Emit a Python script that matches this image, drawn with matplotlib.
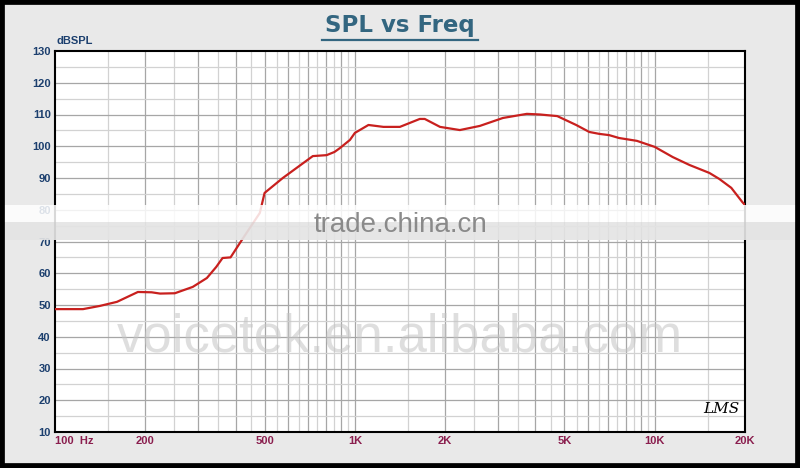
import matplotlib
matplotlib.use("Agg")
import matplotlib.pyplot as plt
from matplotlib.patches import Rectangle
from matplotlib.lines import Line2D

# frequency response
freq = [100, 124, 141, 161, 189, 210, 224, 251, 288, 321, 345, 362, 385, 420,
        482, 500, 575, 724, 805, 855, 891, 963, 1000, 1110, 1245, 1413, 1646,
        1710, 1923, 2239, 2610, 3115, 3745, 4150, 4365, 4730, 5470, 6050, 6530,
        7050, 7600, 8720, 10000, 11480, 13060, 15210, 16420, 18000, 19600, 20000]
spl = [48.7, 48.7, 49.7, 51.0, 54.1, 54.0, 53.6, 53.7, 55.7, 58.5, 62.0, 64.8, 65.0, 70.5,
       79.0, 85.3, 90.0, 96.9, 97.2, 98.2, 99.4, 102.0, 104.2, 106.7, 106.1, 106.1, 108.6,
       108.6, 106.1, 105.1, 106.4, 108.9, 110.2, 110.0, 109.8, 109.5, 106.7, 104.5, 103.9,
       103.5, 102.6, 101.7, 99.8, 96.6, 94.1, 91.6, 89.7, 86.9, 82.4, 81.5]

xtick_pos = [100, 200, 500, 1000, 2000, 5000, 10000, 20000]
xtick_lab = ["100  Hz", "200", "500", "1K", "2K", "5K", "10K", "20K"]
ytick_pos = list(range(10, 140, 10))

W, H = 800, 468
fig = plt.figure(figsize=(8, 4.68), dpi=100, facecolor="#e9e9e9")
ax = fig.add_axes([55 / W, 36 / H, 690 / W, 381 / H])
ax.set_facecolor("white")
ax.set_xscale("log")
ax.set_xlim(100, 20000)
ax.set_ylim(10, 130)

# grid like the LMS printout: 1, 1.5, 2 ... 9.5 per decade
for dec in [100, 1000, 10000]:
    for k in range(2, 20):
        f = dec * k / 2
        if f <= 100 or f >= 20000:
            continue
        c = "#a6a6a6" if k % 2 == 0 else "#d2d2d2"
        ax.axvline(f, color=c, lw=0.9, zorder=1)
for y in range(15, 130, 5):
    c = "#a6a6a6" if y % 10 == 0 else "#d2d2d2"
    ax.axhline(y, color=c, lw=0.9, zorder=1)

ax.plot(freq, spl, color="#c8201e", lw=1.6, zorder=3)

ax.set_xticks(xtick_pos)
ax.set_xticklabels(xtick_lab)
ax.minorticks_off()
ax.set_yticks(ytick_pos)
ax.tick_params(length=0, pad=3)
for t in ax.get_xticklabels():
    t.set_fontfamily("Liberation Sans")
    t.set_fontweight("bold")
    t.set_fontsize(8)
    t.set_color("#8a1e4e")
ax.get_xticklabels()[0].set_horizontalalignment("left")
for t in ax.get_yticklabels():
    t.set_fontfamily("Liberation Sans")
    t.set_fontweight("bold")
    t.set_fontsize(8)
    t.set_color("#1c3f6e")
for s in ax.spines.values():
    s.set_color("black")
    s.set_linewidth(1.5)

fig.text(56 / W, 1 - 44 / H, "dBSPL", fontfamily="Liberation Sans", fontweight="bold",
         fontsize=8, color="#1c3f6e", va="baseline")

# title with underline
fig.text(0.5, 1 - 32 / H, "SPL vs Freq", ha="center", va="baseline",
         fontfamily="DejaVu Sans", fontweight="bold", fontsize=16.5, color="#336680")
fig.add_artist(Line2D([322 / W, 478 / W], [1 - 40 / H] * 2, color="#336680", lw=1.6))

# LMS logo
fig.text(703 / W, 1 - 413 / H, "LMS", fontfamily="DejaVu Serif", style="italic",
         fontsize=11, color="black")

# watermarks
fig.add_artist(Rectangle((0, 1 - 222 / H), 1, 17 / H, transform=fig.transFigure,
                         facecolor="white", alpha=0.85, lw=0, zorder=5))
fig.add_artist(Rectangle((0, 1 - 240 / H), 1, 18 / H, transform=fig.transFigure,
                         facecolor="#e4e4e4", alpha=0.92, lw=0, zorder=5))
fig.text(0.5, 1 - 225 / H, "trade.china.cn", ha="center", va="center",
         fontfamily="Liberation Sans", fontsize=20, color="#8a8a8a", zorder=6)
fig.text(0.5, 1 - 338 / H, "voicetek.en.alibaba.com", ha="center", va="center",
         fontfamily="Liberation Sans", fontsize=38, color="#c4c4c4", alpha=0.55, zorder=6)

# outer black frame
fig.add_artist(Rectangle((0, 0), 1, 1, transform=fig.transFigure, fill=False,
                         edgecolor="black", lw=7, zorder=7))

fig.savefig("out.png", dpi=100, facecolor=fig.get_facecolor())
